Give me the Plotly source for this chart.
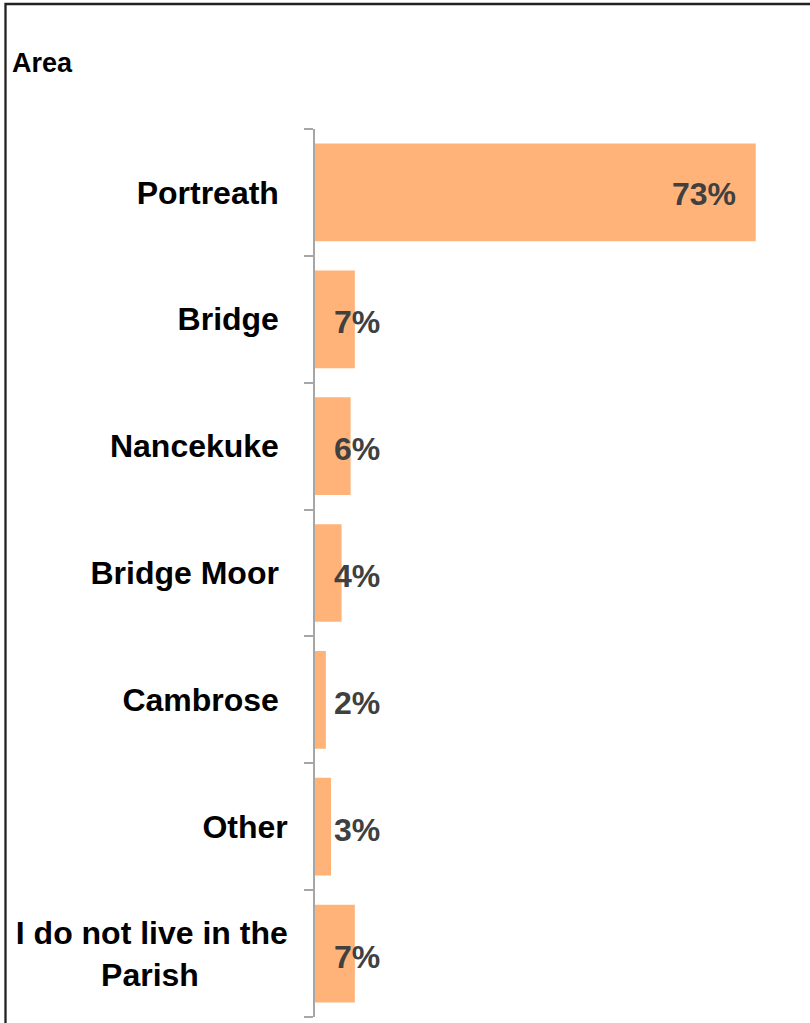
import plotly.graph_objects as go

categories = ["Portreath", "Bridge", "Nancekuke", "Bridge Moor", "Cambrose", "Other",
              "I do not live in the Parish"]
values = [73, 6.6, 5.9, 4.4, 1.8, 2.65, 6.6]
tick_labels = ["Portreath\u00a0", "Bridge\u00a0", "Nancekuke\u00a0", "Bridge Moor\u00a0",
               "Cambrose\u00a0", "Other",
               "I do not live in the<br>Parish" + "\u00a0" * 10]
title_text = "Area"

W, H = 810, 1023
L, R, T, B = 315, 12, 129, 6
pw, ph = W - L - R, H - T - B

label_font = dict(family="Liberation Sans, Arial", size=32, color="#404040", weight="bold")

fig = go.Figure()
fig.add_trace(go.Bar(
    y=categories, x=values, orientation="h",
    marker=dict(color="#FFB379", line=dict(width=0)),
    hoverinfo="skip",
))

for c, v in zip(categories, values):
    label = f"{v:.0f}%"
    if v > 20:
        fig.add_annotation(x=v, y=c, xref="x", yref="y", text=label, showarrow=False,
                           xanchor="right", yanchor="middle", xshift=-18, yshift=-2,
                           font=label_font)
    else:
        fig.add_annotation(x=0, y=c, xref="x", yref="y", text=label, showarrow=False,
                           xanchor="left", yanchor="middle", xshift=17, yshift=-3,
                           font=label_font)

# outer chart border (extends beyond right/bottom edges as in the reference)
fig.add_shape(type="rect", xref="paper", yref="paper",
              x0=(5.5 - L) / pw, x1=1.2, y0=-0.2, y1=1 + (T - 4) / ph,
              line=dict(color="#222222", width=2.3), fillcolor="rgba(0,0,0,0)",
              layer="above")

fig.update_layout(
    width=W, height=H,
    margin=dict(l=L, r=R, t=T, b=B, pad=0),
    paper_bgcolor="white", plot_bgcolor="white",
    showlegend=False,
    bargap=0.23,
    title=dict(text=title_text, xref="container", yref="container",
               x=12 / W, xanchor="left", y=1 - 63 / H, yanchor="middle",
               font=dict(family="Liberation Sans Narrow, Arial Narrow, Liberation Sans",
                         size=27, color="black", weight="bold")),
    xaxis=dict(range=[0, 80], visible=False, showgrid=False, zeroline=False),
    yaxis=dict(autorange="reversed", categoryorder="array", categoryarray=categories,
               tickmode="array", tickvals=categories, ticktext=tick_labels,
               showline=True, linecolor="#A6A6A6", linewidth=1.6,
               ticks="outside", tickson="boundaries", ticklen=9, tickwidth=1.6,
               tickcolor="#A6A6A6", ticklabelstandoff=19, showgrid=False,
               tickfont=dict(family="Liberation Sans, Arial", size=32, color="black",
                             weight="bold")),
)

fig.write_html("out.html", post_script="document.body.style.margin='0';",
               config={"displayModeBar": False})
